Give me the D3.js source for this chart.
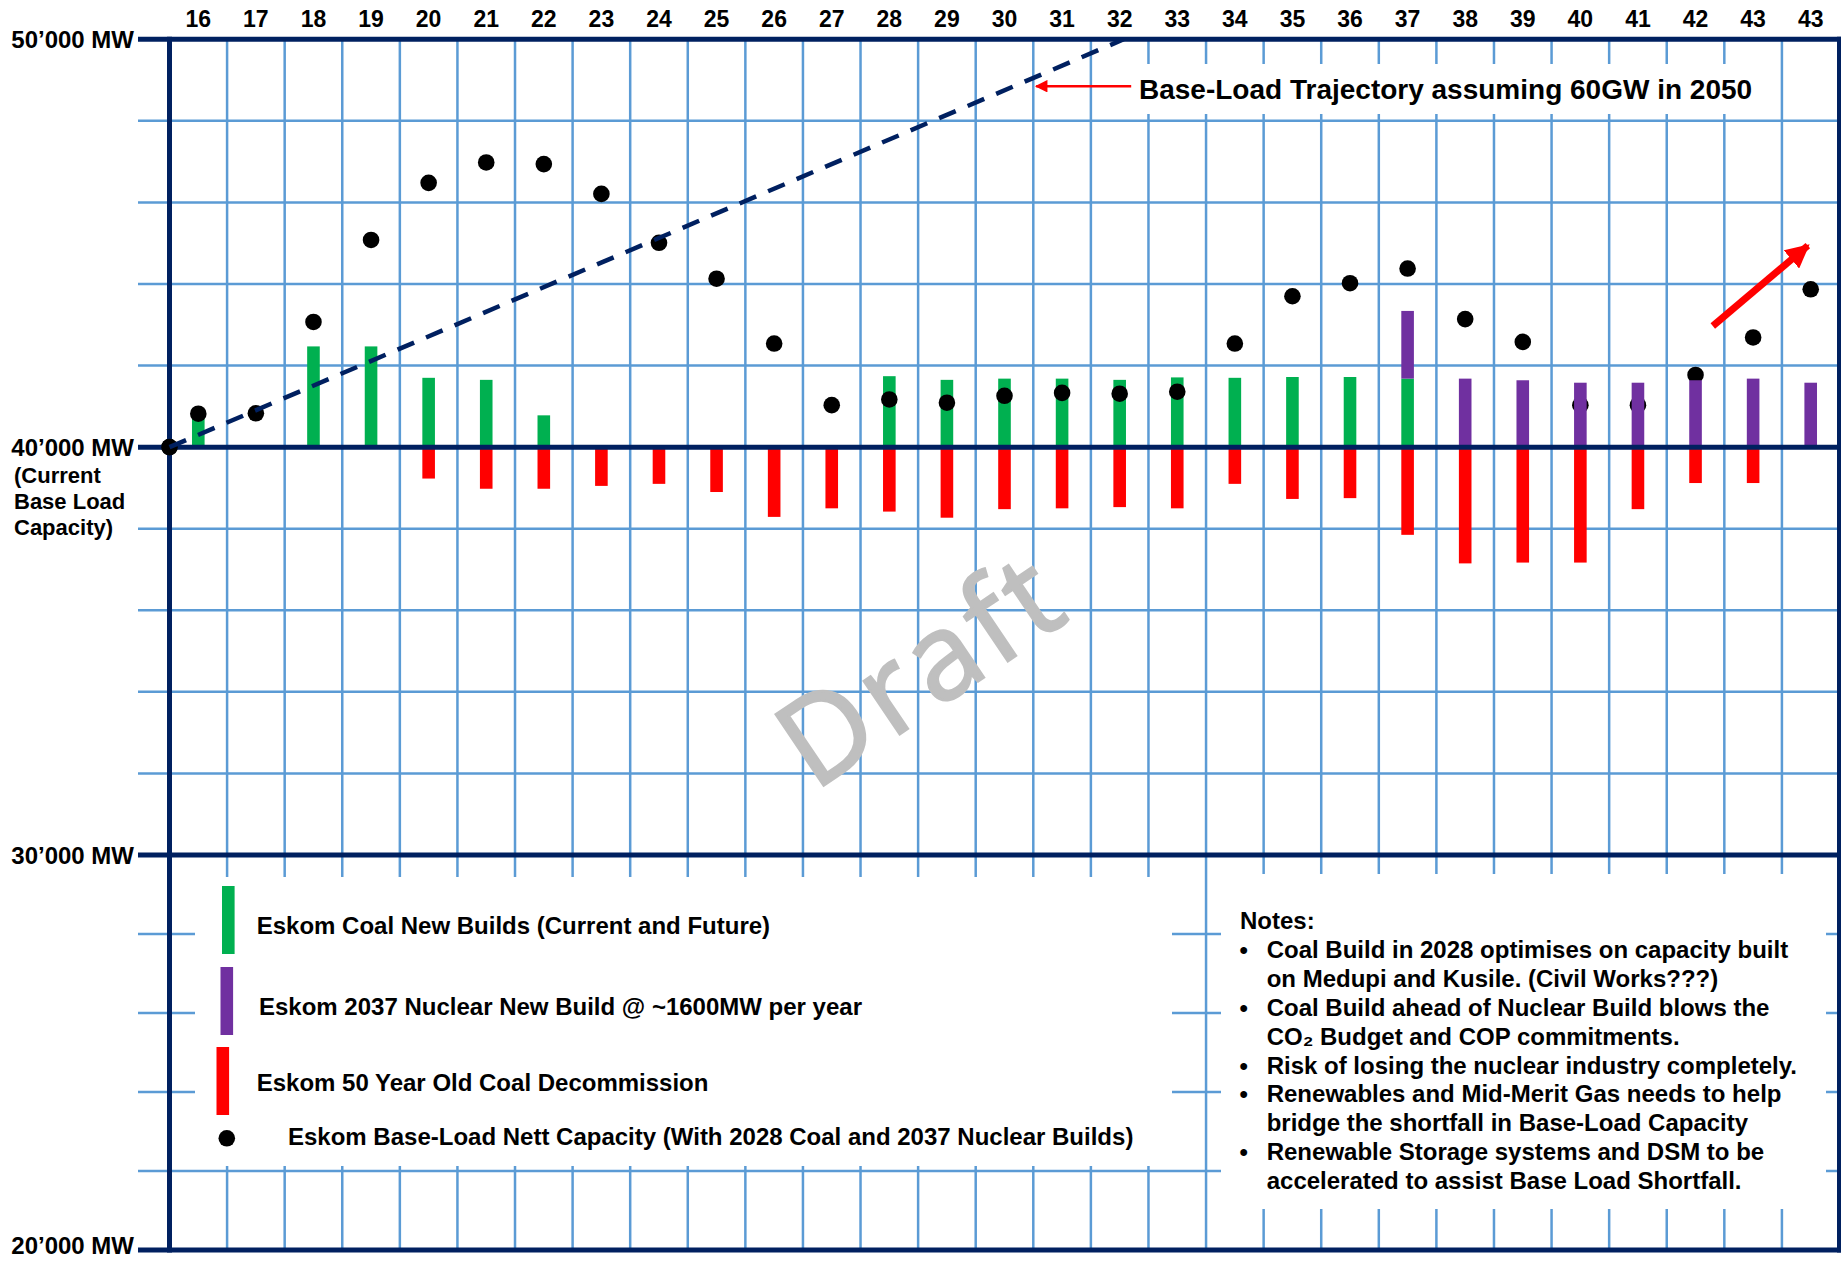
<!DOCTYPE html>
<html>
<head>
<meta charset="utf-8">
<script src="https://cdn.jsdelivr.net/npm/d3@7"></script>
<style>
  body { margin: 0; background: #fff; }
  svg text { font-family: Arial, "Liberation Sans", sans-serif; font-weight: bold; fill: #000; }
</style>
</head>
<body>
<svg id="chart"></svg>
<script>
// column labels (years 20xx), last one repeats in the original
var yearLabels = ["16","17","18","19","20","21","22","23","24","25","26","27","28","29","30",
                  "31","32","33","34","35","36","37","38","39","40","41","42","43","43"];

// MW added / removed per year, relative to the 40'000 MW base
var coalNew    = [750,0,2470,2470,1700,1650,780,0,0,0,0,0,1740,1650,1680,
                  1680,1650,1710,1700,1720,1720,1680,0,0,0,0,0,0,0];
var nuclearNew = [0,0,0,0,0,0,0,0,0,0,0,0,0,0,0,
                  0,0,0,0,0,0,1660,1680,1640,1580,1580,1640,1680,1580];
var coalDecom  = [0,0,0,0,-770,-1020,-1020,-950,-900,-1100,-1710,-1500,-1580,-1730,-1520,
                  -1500,-1470,-1500,-900,-1270,-1250,-2150,-2850,-2830,-2830,-1520,-880,-880,0];

// nett base-load capacity (MW)
var netCapacity = [40820,40830,43070,45080,46480,46980,46940,46210,45010,44130,42540,41030,41170,41090,41260,
                   41330,41310,41360,42540,43700,44020,44380,43140,42580,41030,41030,41770,42690,43870];
var startCapacity = 40000;

// base-load trajectory (60GW in 2050), in column units
var trajectory = [{col: -0.5, mw: 40000}, {col: 16.07, mw: 50000}];

var yLabels = [{mw: 50000, text: "50’000 MW"}, {mw: 40000, text: "40’000 MW"},
               {mw: 30000, text: "30’000 MW"}, {mw: 20000, text: "20’000 MW"}];
var baseNote = ["(Current", "Base Load", "Capacity)"];

var legendLabels = ["Eskom Coal New Builds (Current and Future)",
                    "Eskom 2037 Nuclear New Build @ ~1600MW per year",
                    "Eskom 50 Year Old Coal Decommission",
                    "Eskom Base-Load Nett Capacity (With 2028 Coal and 2037 Nuclear Builds)"];

var notes = [
  ["Coal Build in 2028 optimises on capacity built", "on Medupi and Kusile. (Civil Works???)"],
  ["Coal Build ahead of Nuclear Build blows the", "CO₂ Budget and COP commitments."],
  ["Risk of losing the nuclear industry completely."],
  ["Renewables and Mid-Merit Gas needs to help", "bridge the shortfall in Base-Load Capacity"],
  ["Renewable Storage systems and DSM to be", "accelerated to assist Base Load Shortfall."]
];

var W = 1841, H = 1261;
var navy = "#002060", grid = "#5B9BD5";
var green = "#00B050", purple = "#7030A0", red = "#FF0000";

var svg = d3.select("#chart").attr("width", W).attr("height", H);

// scales
var x = d3.scaleLinear().domain([-0.5, 28.5]).range([169.5, 1839.5]);
var y = d3.scaleLinear().domain([20000, 30000, 50000]).range([1250, 855, 39.3]);
var barW = 12.6;

// light blue grid
svg.append("g").selectAll("line")
  .data(d3.range(22000, 50000, 2000).filter(function(v) { return v % 10000 != 0; }))
  .enter().append("line")
    .attr("x1", 138).attr("x2", x(28.5))
    .attr("y1", function(d) { return y(d); }).attr("y2", function(d) { return y(d); })
    .attr("stroke", grid).attr("stroke-width", 2.5);

svg.append("g").selectAll("line")
  .data(d3.range(0.5, 28.5, 1))
  .enter().append("line")
    .attr("x1", function(d) { return x(d); }).attr("x2", function(d) { return x(d); })
    .attr("y1", y(50000)).attr("y2", y(20000))
    .attr("stroke", grid).attr("stroke-width", 2.5);

// white boxes over the grid (legend, notes, trajectory label)
svg.append("rect").attr("x", 195).attr("y", 877).attr("width", 977).attr("height", 289).attr("fill", "#fff");
svg.append("rect").attr("x", 1221).attr("y", 874).attr("width", 605).attr("height", 335).attr("fill", "#fff");
svg.append("rect").attr("x", 1128).attr("y", 64).attr("width", 632).attr("height", 50).attr("fill", "#fff");

// watermark
svg.append("text")
  .attr("transform", "translate(814,792) rotate(-34)")
  .style("font-family", "'Open Sans', 'DejaVu Sans', sans-serif")
  .style("font-weight", "normal")
  .style("font-size", "120px")
  .style("letter-spacing", "6px")
  .style("fill", "#BFBFBF")
  .style("stroke", "#BFBFBF")
  .style("stroke-width", 2.5)
  .text("Draft");

// bars
var cols = d3.range(yearLabels.length);

svg.append("g").selectAll("rect")
  .data(cols.filter(function(i) { return coalNew[i] > 0; }))
  .enter().append("rect")
    .attr("x", function(i) { return x(i) - barW / 2; })
    .attr("y", function(i) { return y(startCapacity + coalNew[i]); })
    .attr("width", barW)
    .attr("height", function(i) { return y(startCapacity) - y(startCapacity + coalNew[i]); })
    .attr("fill", green);

svg.append("g").selectAll("rect")
  .data(cols.filter(function(i) { return coalDecom[i] < 0; }))
  .enter().append("rect")
    .attr("x", function(i) { return x(i) - barW / 2; })
    .attr("y", y(startCapacity))
    .attr("width", barW)
    .attr("height", function(i) { return y(startCapacity + coalDecom[i]) - y(startCapacity); })
    .attr("fill", red);

// dots
svg.append("g").selectAll("circle")
  .data([{col: -0.5, mw: startCapacity}].concat(netCapacity.map(function(v, i) { return {col: i, mw: v}; })))
  .enter().append("circle")
    .attr("cx", function(d) { return x(d.col); })
    .attr("cy", function(d) { return y(d.mw); })
    .attr("r", 8.3)
    .attr("fill", "#000");

// nuclear sits on top of the coal bar
svg.append("g").selectAll("rect")
  .data(cols.filter(function(i) { return nuclearNew[i] > 0; }))
  .enter().append("rect")
    .attr("x", function(i) { return x(i) - barW / 2; })
    .attr("y", function(i) { return y(startCapacity + coalNew[i] + nuclearNew[i]); })
    .attr("width", barW)
    .attr("height", function(i) {
      return y(startCapacity + coalNew[i]) - y(startCapacity + coalNew[i] + nuclearNew[i]);
    })
    .attr("fill", purple);

// navy frame lines
svg.append("g").selectAll("line")
  .data(yLabels)
  .enter().append("line")
    .attr("x1", 138).attr("x2", x(28.5) + 2)
    .attr("y1", function(d) { return y(d.mw); }).attr("y2", function(d) { return y(d.mw); })
    .attr("stroke", navy).attr("stroke-width", 5);

svg.append("g").selectAll("line")
  .data([-0.5, 28.5])
  .enter().append("line")
    .attr("x1", function(d) { return x(d); }).attr("x2", function(d) { return x(d); })
    .attr("y1", y(50000) - 2.5).attr("y2", y(20000) + 2.5)
    .attr("stroke", navy).attr("stroke-width", 5);

// redraw origin dot above the axis
svg.append("circle").attr("cx", x(-0.5)).attr("cy", y(startCapacity)).attr("r", 8.3).attr("fill", "#000");

// trajectory
svg.append("path")
  .datum(trajectory)
  .attr("d", d3.line().x(function(d) { return x(d.col); }).y(function(d) { return y(d.mw); }))
  .attr("fill", "none")
  .attr("stroke", navy)
  .attr("stroke-width", 4.5)
  .attr("stroke-dasharray", "18,13");

// arrow heads
var defs = svg.append("defs");
defs.append("marker").attr("id", "thin").attr("viewBox", "0 0 10 10")
  .attr("refX", 9).attr("refY", 5).attr("markerWidth", 6).attr("markerHeight", 5)
  .attr("orient", "auto").attr("markerUnits", "strokeWidth")
  .append("path").attr("d", "M0,0L10,5L0,10Z").attr("fill", red);
defs.append("marker").attr("id", "fat").attr("viewBox", "0 0 10 10")
  .attr("refX", 9).attr("refY", 5).attr("markerWidth", 3.4).attr("markerHeight", 3.4)
  .attr("orient", "auto").attr("markerUnits", "strokeWidth")
  .append("path").attr("d", "M0,0L10,5L0,10Z").attr("fill", red);

svg.append("line")
  .attr("x1", x(16.2)).attr("y1", y(48850)).attr("x2", x(14.55)).attr("y2", y(48850))
  .attr("stroke", red).attr("stroke-width", 2.5).attr("marker-end", "url(#thin)");

svg.append("text").attr("x", 1139).attr("y", 99).style("font-size", "28px")
  .text("Base-Load Trajectory assuming 60GW in 2050");

svg.append("line")
  .attr("x1", x(26.3)).attr("y1", y(42970)).attr("x2", x(27.95)).attr("y2", y(44940))
  .attr("stroke", red).attr("stroke-width", 7).attr("marker-end", "url(#fat)");

// column labels
svg.append("g").selectAll("text")
  .data(yearLabels)
  .enter().append("text")
    .attr("x", function(d, i) { return x(i); })
    .attr("y", 27)
    .attr("text-anchor", "middle")
    .style("font-size", "23px")
    .text(function(d) { return d; });

// y labels
svg.append("g").selectAll("text")
  .data(yLabels)
  .enter().append("text")
    .attr("x", 134)
    .attr("y", function(d) { return Math.min(y(d.mw) + 9, 1254); })
    .attr("text-anchor", "end")
    .style("font-size", "24px")
    .text(function(d) { return d.text; });

svg.append("g").selectAll("text")
  .data(baseNote)
  .enter().append("text")
    .attr("x", 14)
    .attr("y", function(d, i) { return 483 + i * 26; })
    .style("font-size", "22px")
    .text(function(d) { return d; });

// legend
var swatches = [
  {x: 222, y: 886, c: green},
  {x: 220.5, y: 967, c: purple},
  {x: 216.5, y: 1047, c: red}
];
svg.append("g").selectAll("rect")
  .data(swatches)
  .enter().append("rect")
    .attr("x", function(d) { return d.x; }).attr("y", function(d) { return d.y; })
    .attr("width", 12.6).attr("height", 68)
    .attr("fill", function(d) { return d.c; });
svg.append("circle").attr("cx", 226.8).attr("cy", 1138.3).attr("r", 8.3).attr("fill", "#000");

var legendPos = [[256.7, 934], [259, 1015], [256.7, 1091], [288, 1145]];
svg.append("g").selectAll("text")
  .data(legendLabels)
  .enter().append("text")
    .attr("x", function(d, i) { return legendPos[i][0]; })
    .attr("y", function(d, i) { return legendPos[i][1]; })
    .style("font-size", "24px")
    .text(function(d) { return d; });

// notes
var notesG = svg.append("g").style("font-size", "24px");
notesG.append("text").attr("x", 1240).attr("y", 929).text("Notes:");
var line = 1;
notes.forEach(function(n) {
  notesG.append("text").attr("x", 1239.6).attr("y", 929 + line * 28.9).text("•");
  n.forEach(function(t) {
    notesG.append("text").attr("x", 1266.7).attr("y", 929 + line * 28.9).text(t);
    line++;
  });
});
</script>
</body>
</html>
